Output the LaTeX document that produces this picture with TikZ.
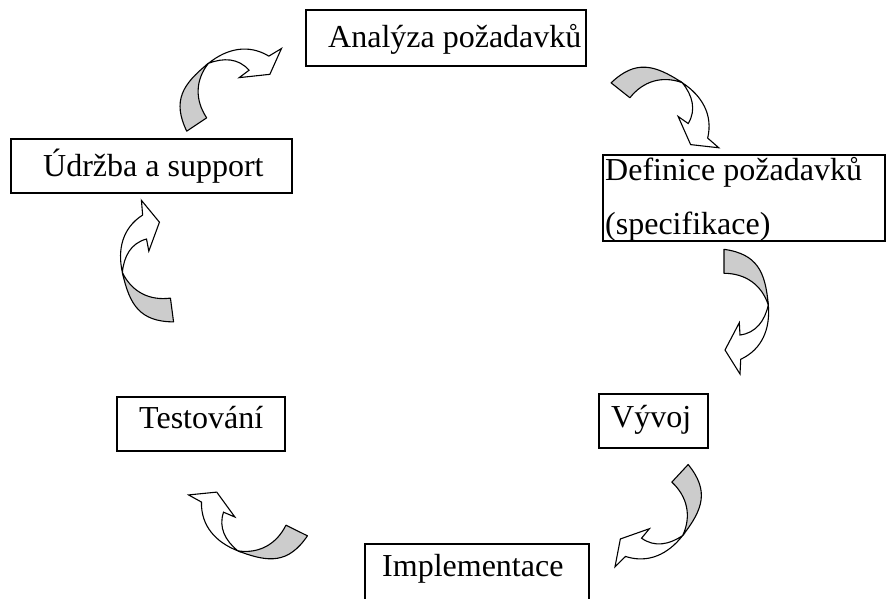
\documentclass[tikz,border=0pt]{standalone}
\usepackage{fontspec}
\setmainfont{Liberation Serif}
\begin{document}
\begin{tikzpicture}[x=1pt,y=-1pt,
  box/.style={draw=black, line width=1.4pt, rectangle, inner sep=0pt, outer sep=0pt},
  lbl/.style={anchor=base west, inner sep=0pt, font=\fontsize{32}{38}\selectfont},
  back/.style={fill=black!20, draw=black, line width=1.1pt, line join=round},
  front/.style={fill=white, draw=black, line width=1.1pt, line join=miter},
  % curved band arrow: shaded back part first, then the white front part with its head
  carrow/.pic={
    \path[back] (0,-12) .. controls (33.2,-7.3) and (41.4,10.3) .. (44.3,43.7)
       .. controls (37.7,23.4) and (21.3,12) .. (0,12) -- cycle;
    \path[front] (44.3,43.7) .. controls (46.4,67.4) and (38.3,87.9) .. (16.7,98)
       -- (16,112.7) -- (1,88.7) -- (15.3,61.4) -- (16,73.7)
       .. controls (32,71.7) and (40.8,59.4) .. (44.3,43.7) -- cycle;
  }]
\clip (0,0) rectangle (886,598);

% boxes
\node[box, minimum width=280pt, minimum height=56pt] (analyza) at (446,38) {};
\node[box, minimum width=282pt, minimum height=86pt] (definice) at (744,198) {};
\node[box, minimum width=281pt, minimum height=54pt] (udrzba) at (151.5,166) {};
\node[box, minimum width=168pt, minimum height=54pt] (testovani) at (201,424) {};
\node[box, minimum width=109pt, minimum height=54pt] (vyvoj) at (653.5,421) {};
\node[box, minimum width=224pt, minimum height=56pt] (impl) at (477,572) {};

% labels
\node[lbl] (tA) at (328,47) {Analýza požadavků};
\node[lbl] (tD1) at (605,180) {Definice požadavků};
\node[lbl] (tD2) at (605,234) {(specifikace)};
\node[lbl] (tU) at (43,176) {Údržba a support};
\node[lbl] (tT) at (139,428) {Testování};
\node[lbl] (tV) at (611,427) {Vývoj};
\node[lbl] (tI) at (382,576) {Implementace};

% curved arrows around the cycle
\pic[rotate=51.6] (a2) at (620.5,90.3) {carrow};
\pic (a3) at (724,261.3) {carrow};
\pic[rotate=-42.9] (a4) at (680,473.3) {carrow};
\pic[rotate=-116.3] (a5) at (296.7,530.5) {carrow};
\pic[rotate=-172.5] (a6) at (172,310) {carrow};
\pic[rotate=123.8] (a1) at (196.7,124.5) {carrow};
\end{tikzpicture}
\end{document}
